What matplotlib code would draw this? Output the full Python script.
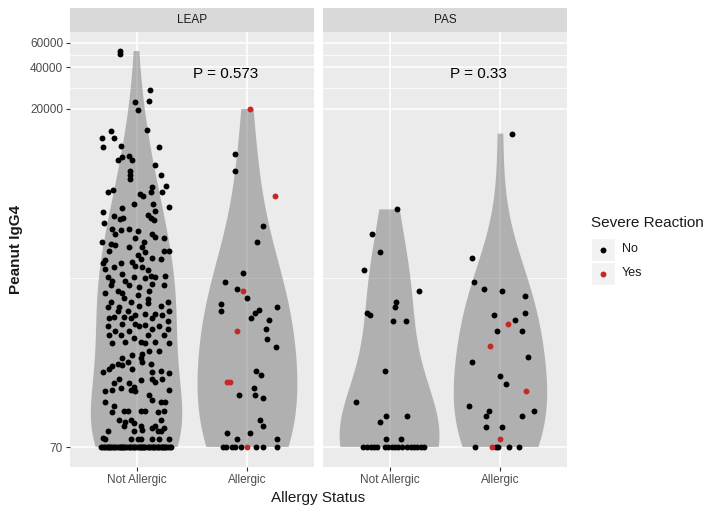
import numpy as np
import matplotlib
matplotlib.use("Agg")
import matplotlib.pyplot as plt
from matplotlib import cbook
from matplotlib.ticker import FixedLocator, NullFormatter
from matplotlib.patches import Rectangle

plt.rcParams['font.family'] = ['Liberation Sans', 'DejaVu Sans']

# ---- data (log10 Peanut IgG4, jitter offset in category units) ----
categories = ['Not Allergic', 'Allergic']
panels = ['LEAP', 'PAS']
p_values = ['P = 0.573', 'P = 0.33']
FLOOR = 70  # lower limit of the assay

y_ticks = [70, 20000, 40000, 60000]

# LEAP, not allergic (all "No")
leap_na_log10 = [
    4.72, 4.70, 4.44, 4.35, 4.36, 4.29, 4.15, 4.14, 4.09, 4.09,
    4.02, 4.03, 4.02, 3.93, 3.95, 3.96, 3.93, 3.89, 3.85, 3.82, 3.79, 3.82,
    3.70, 3.71, 3.74, 3.73, 3.70, 3.68, 3.67, 3.70, 3.61, 3.61, 3.59, 3.58,
    3.55, 3.56, 3.52, 3.51, 3.50, 3.53, 3.51, 3.49, 3.47, 3.43, 3.42, 3.43,
    3.41, 3.39, 3.39, 3.36, 3.37, 3.36,
    3.33, 3.33, 3.32, 3.31, 3.30, 3.30, 3.27, 3.27, 3.27, 3.26, 3.24, 3.21,
    3.19, 3.20, 3.18, 3.18, 3.22, 3.21, 3.14, 3.15, 3.10, 3.16, 3.15, 3.13,
    3.09, 3.08, 3.08, 3.05, 3.05, 3.08, 3.07, 3.09, 3.02, 3.02, 3.01, 3.03,
    3.02, 2.96, 2.96, 2.98, 2.95, 2.98, 2.93, 2.92, 2.90, 2.90, 2.89, 2.87,
    2.90, 2.86, 2.86, 2.87, 2.83, 2.83, 2.79, 2.79, 2.80, 2.81, 2.81, 2.80,
    2.83, 2.78, 2.78, 2.78, 2.74, 2.74, 2.76, 2.72, 2.73, 2.72, 2.70, 2.69,
    2.69, 2.72, 2.70, 2.66, 2.66, 2.64, 2.66, 2.66, 2.61, 2.61, 2.61, 2.60,
    2.60, 2.60, 2.51, 2.52, 2.54, 2.54, 2.49, 2.49, 2.46, 2.45, 2.39, 2.41,
    2.43, 2.44, 2.41, 2.46, 2.45, 2.40, 2.38, 2.39, 2.34, 2.33, 2.34, 2.34,
    2.31, 2.31, 2.28, 2.32, 2.26, 2.27, 2.25, 2.26, 2.25, 2.22, 2.26, 2.19,
    2.17, 2.17, 2.17, 2.14, 2.10, 2.11, 2.11, 2.11, 2.11, 2.10, 2.11, 2.04,
    2.04, 2.03, 2.02, 2.00, 2.00, 2.04, 2.00, 1.98, 1.98, 1.96, 1.96, 1.97,
    1.96, 1.96, 1.91, 1.90, 1.90, 1.90, 1.90, 1.90, 1.90, 1.90,
]
leap_na_jit = [
    -0.15, -0.15, 0.12, -0.01, 0.11, 0.01, 0.09, -0.23, -0.31, -0.20,
    -0.30, -0.14, 0.20, -0.17, -0.13, -0.07, -0.04, 0.17, -0.06, -0.06, -0.06, 0.22,
    -0.26, -0.21, 0.27, 0.14, 0.23, 0.03, 0.06, 0.13, -0.02, 0.15, 0.29, -0.13,
    -0.30, 0.17, -0.20, -0.12, -0.15, 0.10, 0.13, 0.16, -0.29, -0.22, -0.14, -0.07,
    0.01, -0.19, 0.14, 0.25, 0.17, -0.01,
    0.07, -0.31, -0.23, -0.19, -0.07, 0.05, 0.29, 0.25, -0.25, 0.08, 0.01, 0.04,
    -0.04, -0.28, -0.30, -0.14, 0.14, 0.22, -0.28, -0.20, -0.13, -0.01, 0.05, 0.10,
    0.13, 0.17, -0.26, -0.22, -0.10, -0.02, 0.08, 0.26, -0.23, -0.07, 0.02, 0.14,
    0.25, -0.28, -0.13, 0.11, 0.01, -0.17, -0.11, 0.10, -0.23, -0.05, 0.10, 0.22,
    0.28, -0.26, -0.16, 0.02, -0.17, -0.08, -0.20, -0.11, -0.01, 0.08, 0.17, 0.23,
    0.29, 0.14, -0.25, -0.05, -0.13, -0.01, 0.28, -0.26, 0.08, 0.02, 0.14, -0.19,
    -0.07, 0.20, 0.28, -0.25, -0.14, -0.02, 0.10, 0.25, -0.10, 0.04, 0.17, -0.22,
    0.08, 0.29, -0.04, 0.05, 0.11, 0.20, 0.04, -0.13, -0.08, -0.17, -0.30, -0.25,
    -0.22, -0.13, -0.04, 0.05, 0.13, 0.22, 0.29, 0.14, -0.16, 0.04, 0.14, 0.23,
    -0.20, -0.07, -0.02, 0.17, -0.22, -0.14, -0.28, -0.05, -0.01, 0.11, 0.29, 0.14,
    0.22, 0.26, -0.28, -0.20, -0.22, -0.11, -0.08, 0.04, 0.08, 0.19, 0.25, -0.16,
    -0.05, -0.10, -0.02, -0.11, 0.04, 0.22, 0.17, 0.14, 0.25, -0.26, -0.02, 0.05,
    0.19, 0.22, -0.30, -0.28, -0.05, 0.01, 0.04, 0.14, 0.20, 0.29,
]
leap_na_floor_jit = [
    -0.32, -0.31, -0.29, -0.28, -0.27, -0.26, -0.25, -0.24, -0.23, -0.21,
    -0.20, -0.19, -0.18, -0.16, -0.15, -0.14, -0.13, -0.12, -0.11, -0.10,
    -0.09, -0.07, -0.06, -0.05, -0.03, -0.02, -0.01, 0.00, 0.02, 0.03,
    0.04, 0.05, 0.06, 0.07, 0.08, 0.10, 0.11, 0.12, 0.14, 0.15,
    0.16, 0.17, 0.18, 0.19, 0.20, 0.22, 0.23, 0.24, 0.25, 0.26,
    0.27, 0.28, 0.30, 0.31,
]

# LEAP, allergic
leap_a_no_log10 = [
    3.97, 3.85, 3.45, 3.33, 3.11, 3.04, 2.99, 2.93, 2.88, 2.83, 2.86, 2.84,
    2.82, 2.78, 2.77, 2.70, 2.63, 2.57, 2.40, 2.37, 2.22, 2.27, 2.22, 2.20,
    2.04, 2.00, 1.95, 1.95, 1.90, 1.90,
]
leap_a_no_jit = [
    -0.11, -0.11, 0.14, 0.09, -0.04, -0.20, -0.09, 0.00, -0.24, -0.24, 0.27, 0.10,
    0.07, 0.03, 0.19, 0.17, 0.18, 0.26, 0.08, 0.12, -0.08, 0.06, 0.07, 0.14,
    0.11, 0.14, -0.18, 0.02, -0.09, 0.27,
]
leap_a_no_floor_jit = [-0.22, -0.19, -0.14, -0.11, -0.06, 0.08, 0.14, 0.27]
leap_a_yes_log10 = [4.30, 3.67, 2.98, 2.69, 2.32, 2.32]
leap_a_yes_jit = [0.02, 0.25, -0.04, -0.09, -0.18, -0.16]
leap_a_yes_floor_jit = [0.00]

# PAS, not allergic (all "No")
pas_na_log10 = [
    3.57, 3.39, 3.26, 3.13, 2.98, 2.90, 2.86, 2.82, 2.80, 2.76, 2.76, 2.40,
    2.17, 2.07, 2.07, 2.03, 1.90, 1.90,
]
pas_na_jit = [
    0.07, -0.16, -0.09, -0.23, 0.27, 0.06, 0.05, -0.20, -0.18, 0.03, 0.15, -0.04,
    -0.30, -0.03, 0.16, -0.09, -0.03, 0.10,
]
pas_na_floor_jit = [
    -0.24, -0.20, -0.17, -0.14, -0.11, -0.04, -0.01, 0.02, 0.05, 0.08,
    0.11, 0.16, 0.19, 0.22, 0.25, 0.28, 0.31,
]

# PAS, allergic
pas_a_no_log10 = [
    4.12, 3.22, 3.04, 2.99, 2.98, 2.94, 2.82, 2.80, 2.77, 2.69, 2.69, 2.50,
    2.46, 2.36, 2.30, 2.14, 2.11, 2.07, 2.07, 2.11, 1.99, 1.99,
]
pas_a_no_jit = [
    0.10, -0.26, -0.24, -0.15, 0.01, 0.22, 0.22, -0.06, 0.13, -0.03, 0.19, 0.25,
    -0.26, 0.00, 0.05, -0.28, -0.10, -0.13, 0.19, 0.30, -0.13, 0.01,
]
pas_a_no_floor_jit = [-0.23, -0.04, -0.02, 0.08, 0.17]
pas_a_yes_log10 = [2.74, 2.58, 2.25, 1.90]
pas_a_yes_jit = [0.07, -0.09, 0.23, 0.00]
pas_a_yes_floor_jit = [-0.08]

# ---- styling ----
PANEL_BG = '#EBEBEB'
STRIP_BG = '#D9D9D9'
VIOLIN = '#777777'
RED = '#C62828'
BW_ADJUST = 1.7
PT = 18
W, H = 722, 515


def group(no_log, no_jit, no_floor, yes_log=(), yes_jit=(), yes_floor=()):
    no_v = np.concatenate([10 ** np.array(no_log, float), np.full(len(no_floor), FLOOR)])
    no_j = np.concatenate([np.array(no_jit, float), np.array(no_floor, float)])
    yes_v = np.concatenate([10 ** np.array(yes_log, float), np.full(len(yes_floor), FLOOR)])
    yes_j = np.concatenate([np.array(yes_jit, float), np.array(yes_floor, float)])
    return no_v, no_j, yes_v, yes_j


def kde_nrd0(x, coords):
    # gaussian kernel, R's bw.nrd0 bandwidth times an adjust factor
    sd = np.std(x, ddof=1)
    iqr = np.subtract(*np.percentile(x, [75, 25]))
    bw = BW_ADJUST * 0.9 * min(sd, iqr / 1.34 if iqr > 0 else sd) * len(x) ** -0.2
    z = (coords[:, None] - x[None, :]) / bw
    return np.exp(-0.5 * z ** 2).sum(axis=1) / (len(x) * bw * np.sqrt(2 * np.pi))


data = {
    'LEAP': [group(leap_na_log10, leap_na_jit, leap_na_floor_jit),
             group(leap_a_no_log10, leap_a_no_jit, leap_a_no_floor_jit,
                   leap_a_yes_log10, leap_a_yes_jit, leap_a_yes_floor_jit)],
    'PAS': [group(pas_na_log10, pas_na_jit, pas_na_floor_jit),
            group(pas_a_no_log10, pas_a_no_jit, pas_a_no_floor_jit,
                  pas_a_yes_log10, pas_a_yes_jit, pas_a_yes_floor_jit)],
}

fig = plt.figure(figsize=(W / 100, H / 100), dpi=100)
panel_left = [70, 323]
ylim = (10 ** 1.700, 10 ** 4.858)
major = np.log10(y_ticks)
minor = 10 ** ((major[:-1] + major[1:]) / 2)

for k, name in enumerate(panels):
    ax = fig.add_axes([panel_left[k] / W, 1 - 467 / H, 244 / W, 435 / H])
    ax.set_facecolor(PANEL_BG)
    ax.set_yscale('log')
    ax.set_xlim(0.4, 2.6)
    ax.set_ylim(*ylim)
    ax.yaxis.set_major_locator(FixedLocator(y_ticks))
    ax.yaxis.set_minor_locator(FixedLocator(minor))
    ax.yaxis.set_minor_formatter(NullFormatter())
    ax.set_yticklabels([str(t) for t in y_ticks])
    ax.set_xticks([1, 2])
    ax.set_xticklabels(categories)
    ax.grid(True, which='major', color='white', lw=1.1)
    ax.grid(True, which='minor', axis='y', color='white', lw=0.55)
    ax.set_axisbelow(True)
    for s in ax.spines.values():
        s.set_visible(False)
    ax.tick_params(which='major', length=3, width=0.8, color='#333333',
                   labelsize=8.5, labelcolor='#4D4D4D', pad=2)
    ax.tick_params(which='minor', length=0)
    if k > 0:
        ax.tick_params(axis='y', left=False, labelleft=False)
    else:
        ax.set_ylabel('Peanut IgG4', fontsize=11, fontweight='bold', color='#1A1A1A')
        ax.yaxis.set_label_coords(-0.193, 0.5)

    groups = data[name]
    # violins: density of log10 values, area-scaled within the panel
    stats = []
    for no_v, no_j, yes_v, yes_j in groups:
        vals = np.log10(np.concatenate([no_v, yes_v]))
        st = cbook.violin_stats(vals, kde_nrd0, points=512)[0]
        st['coords'] = 10 ** st['coords']
        stats.append(st)
    dmax = max(st['vals'].max() for st in stats)
    widths = [0.9 * st['vals'].max() / dmax for st in stats]
    parts = ax.violin(stats, positions=[1, 2], widths=widths, showextrema=False)
    for body in parts['bodies']:
        body.set_facecolor(VIOLIN)
        body.set_edgecolor('none')
        body.set_alpha(0.5)

    for i, (no_v, no_j, yes_v, yes_j) in enumerate(groups):
        ax.scatter(i + 1 + no_j, no_v, s=PT, color='black', lw=0, zorder=3)
        if len(yes_v):
            ax.scatter(i + 1 + yes_j, yes_v, s=PT, color=RED, lw=0, zorder=3)

    ax.text(1.8, 10 ** 4.55, p_values[k], fontsize=11, color='black',
            ha='center', va='center')

    # facet strip
    sax = fig.add_axes([panel_left[k] / W, 1 - 32 / H, 244 / W, 24 / H])
    sax.set_facecolor(STRIP_BG)
    sax.set_xticks([])
    sax.set_yticks([])
    for s in sax.spines.values():
        s.set_visible(False)
    sax.text(0.5, 0.5, name, ha='center', va='center', fontsize=8.5, color='#1A1A1A')

fig.text(318 / W, 1 - 498 / H, 'Allergy Status', ha='center', va='center',
         fontsize=11, color='#1A1A1A')

# legend
lax = fig.add_axes([585 / W, 1 - 290 / H, 130 / W, 80 / H])
lax.set_xlim(585, 715)
lax.set_ylim(290, 210)
lax.axis('off')
lax.text(591, 223, 'Severe Reaction', fontsize=11, va='center', ha='left', color='#1A1A1A')
for j, (lab, col) in enumerate([('No', 'black'), ('Yes', RED)]):
    top = 238 + 24 * j
    lax.add_patch(Rectangle((591, top), 24, 23, facecolor='#F2F2F2', edgecolor='white'))
    lax.scatter([603], [top + 11.5], s=PT, color=col, lw=0)
    lax.text(622, top + 11.5, lab, fontsize=9, va='center', ha='left', color='#1A1A1A')

fig.savefig('out.png', dpi=100)
